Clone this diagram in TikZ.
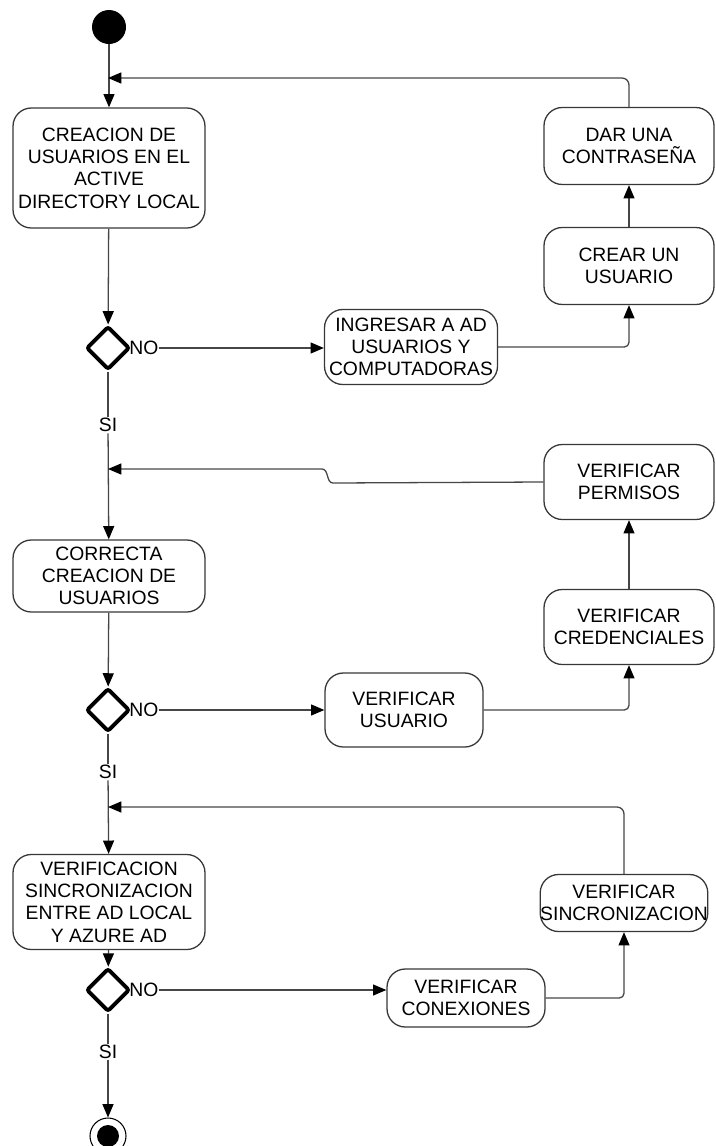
\documentclass[tikz,border=0pt]{standalone}
\usepackage{fontspec}
\setmainfont{Liberation Sans}
\usetikzlibrary{arrows.meta,shapes.geometric}
\definecolor{lineagray}{RGB}{70,70,70}
\definecolor{cajagray}{RGB}{55,55,55}

\begin{document}
\begin{tikzpicture}[x=0.03cm,y=-0.03cm,
  font=\fontsize{16.5}{19}\selectfont,
  actividad/.style={draw=cajagray,line width=1.1pt,rounded corners=0.55cm,align=center,inner sep=0pt},
  decision/.style={diamond,draw=black,line width=3.3pt,rounded corners=2pt,minimum width=1.3cm,minimum height=1.3cm,inner sep=0pt},
  flujo/.style={lineagray,line width=1.1pt},
  flecha/.style={flujo,-{Triangle[length=4mm,width=3.3mm,color=black]}},
  etiqueta/.style={inner sep=1pt}]
  \useasboundingbox (0,0) rectangle (715,1146);

  % inicio y fin
  \node[circle,fill=black,minimum size=1.02cm,inner sep=0pt] (inicio) at (109,27) {};
  \node[circle,draw=black,line width=0.9pt,minimum size=1.08cm,inner sep=0pt] (fin) at (108,1136) {};
  \fill[black] (fin.center) circle (0.33cm);

  % columna izquierda
  \node[actividad,minimum width=5.76cm,minimum height=3.6cm] (creacion) at (109,168) {CREACION DE\\USUARIOS EN EL\\ACTIVE\\DIRECTORY LOCAL};
  \node[decision] (d1) at (108,348) {};
  \node[etiqueta] (si1) at (108,425) {SI};
  \node[actividad,minimum width=5.76cm,minimum height=2.16cm] (correcta) at (109,576) {CORRECTA\\CREACION DE\\USUARIOS};
  \node[decision] (d2) at (108,710) {};
  \node[etiqueta] (si2) at (108,772) {SI};
  \node[actividad,minimum width=5.76cm,minimum height=2.85cm] (verificacion) at (109,902) {VERIFICACION\\SINCRONIZACION\\ENTRE AD LOCAL\\Y AZURE AD};
  \node[decision] (d3) at (108,990) {};
  \node[etiqueta] (si3) at (108,1052) {SI};

  % etiquetas NO
  \node[etiqueta,inner sep=0pt,anchor=west] (no1) at ([xshift=-2pt]d1.east) {NO};
  \node[etiqueta,inner sep=0pt,anchor=west] (no2) at ([xshift=-2pt]d2.east) {NO};
  \node[etiqueta,inner sep=0pt,anchor=west] (no3) at ([xshift=-2pt]d3.east) {NO};

  % ramas de la derecha
  \node[actividad,minimum width=5.19cm,minimum height=2.25cm] (ingresar) at (411,347) {INGRESAR A AD\\USUARIOS Y\\COMPUTADORAS};
  \node[actividad,minimum width=5.1cm,minimum height=2.31cm] (crear) at (629,266) {CREAR UN\\USUARIO};
  \node[actividad,minimum width=5.1cm,minimum height=2.31cm] (dar) at (629,146) {DAR UNA\\CONTRASEÑA};
  \node[actividad,minimum width=4.74cm,minimum height=2.22cm] (vusuario) at (404,710) {VERIFICAR\\USUARIO};
  \node[actividad,minimum width=5.1cm,minimum height=2.25cm] (credenciales) at (629,627) {VERIFICAR\\CREDENCIALES};
  \node[actividad,minimum width=5.1cm,minimum height=2.25cm] (permisos) at (629,482) {VERIFICAR\\PERMISOS};
  \node[actividad,minimum width=4.74cm,minimum height=1.74cm] (conexiones) at (466,998) {VERIFICAR\\CONEXIONES};
  \node[actividad,minimum width=4.71cm,minimum height=1.71cm] (sinc) at (624,903) {VERIFICAR\\SINCRONIZACION};

  % puntos de union
  \coordinate (m1) at (108,78);
  \coordinate (m2) at (108,469);
  \coordinate (m3) at (108,807);

  % flujo principal
  \draw[flecha] (inicio) -- (creacion);
  \draw[flecha] (creacion) -- (d1);
  \draw[flujo] (d1.south) -- (si1);
  \draw[flecha] (si1) -- (correcta);
  \draw[flecha] (correcta) -- (d2);
  \draw[flujo] (d2.south) -- (si2);
  \draw[flecha] (si2) -- (verificacion);
  \draw[flecha] (verificacion) -- (d3);
  \draw[flujo] (d3.south) -- (si3);
  \draw[flecha] (si3) -- (fin);

  % primer ciclo
  \draw[flecha] (no1) -- (ingresar.west |- no1);
  \draw[flecha,rounded corners=4pt] (ingresar.east) -| (crear.south);
  \draw[flecha] (crear) -- (dar);
  \draw[flecha,rounded corners=6pt] (dar.north) |- (m1);

  % segundo ciclo
  \draw[flecha] (no2) -- (vusuario.west |- no2);
  \draw[flecha,rounded corners=4pt] (vusuario.east) -| (credenciales.south);
  \draw[flecha] (credenciales) -- (permisos);
  \draw[flecha] (permisos.west) -- (333,483) .. controls (326,483) and (329,469) .. (322,469) -- (m2);

  % tercer ciclo
  \draw[flecha] (no3) -- (conexiones.west |- no3);
  \draw[flecha,rounded corners=4pt] (conexiones.east) -| (sinc.south);
  \draw[flecha,rounded corners=6pt] (sinc.north) |- (m3);
\end{tikzpicture}
\end{document}
